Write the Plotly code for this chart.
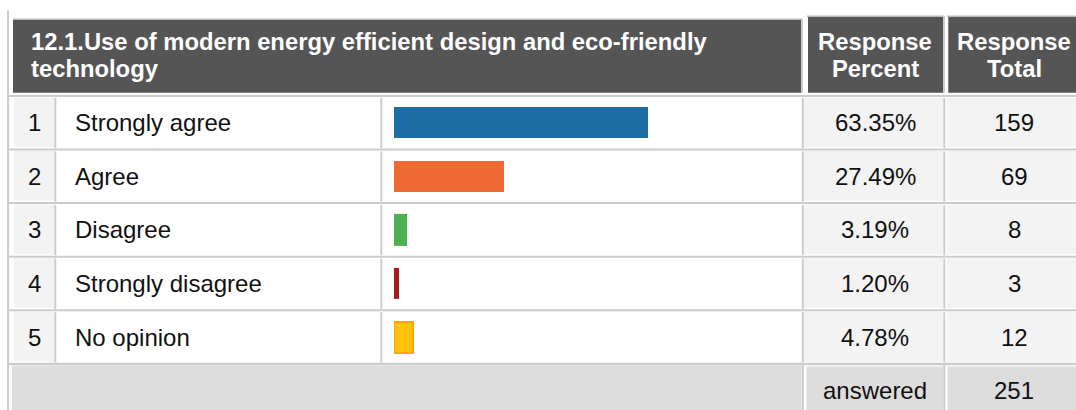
import plotly.graph_objects as go

# ---------------- data ----------------
question = "12.1.Use of modern energy efficient design and eco-friendly<br>technology"
col_headers = ["Response<br>Percent", "Response<br>Total"]
row_numbers = ["1", "2", "3", "4", "5"]
answers = ["Strongly agree", "Agree", "Disagree", "Strongly disagree", "No opinion"]
percents = [63.35, 27.49, 3.19, 1.20, 4.78]
totals = [159, 69, 8, 3, 12]
answered_label = "answered"
answered_total = 251

# ---------------- style ----------------
bar_colors = ["#1C6EA4", "#F16A36", "#4CAF50", "#A51C1E", "#FFC20E"]
bar_edges = ["#1C6EA4", "#F16A36", "#4CAF50", "#A51C1E", "#FFA500"]
bar_edge_w = [0, 0, 0, 0, 2]

W, H = 1076, 410
FONT = "Liberation Sans, Arial, sans-serif"
HEAD_BG = "#555555"
CELL_BG = "#F3F3F3"
FOOT_BG = "#DDDDDD"
BORDER = "#CCCCCC"
BODY_SIZE = 24
HEAD_SIZE = 23.8
HEAD_LINES_Y = (41.8, 68.6)

ROW0 = 95.9      # top of first body row (px)
PITCH = 53.6     # row pitch (px)
N = len(answers)

# column geometry (px)
NUM_X = (14, 54.3)
LAB_X0 = 72.5
HEAD_X0 = 28.5
BAR_X = (394, 795)     # 0..100 % span
PCT_X = (804, 943.3)
TOT_X = (947, 1081)
TOT_CX = 1014
VLINES = [55.3, 381.3, 802.8, 944.3]

fig = go.Figure()

# bars, drawn on their own percent axis
fig.add_trace(go.Bar(
    x=percents, y=answers, orientation="h",
    xaxis="x2", yaxis="y2",
    width=0.58,
    marker=dict(color=bar_colors, line=dict(color=bar_edges, width=bar_edge_w)),
    hoverinfo="skip", showlegend=False,
))

shapes = []
ann = []


def rect(x0, x1, y0, y1, fill):
    shapes.append(dict(type="rect", xref="x", yref="y", x0=x0, x1=x1, y0=y0, y1=y1,
                       fillcolor=fill, line=dict(width=0), layer="below"))


def hline(x0, x1, y, color=BORDER, w=2):
    shapes.append(dict(type="line", xref="x", yref="y", x0=x0, x1=x1, y0=y, y1=y,
                       line=dict(color=color, width=w), layer="below"))


def vline(x, y0, y1, color=BORDER, w=2):
    shapes.append(dict(type="line", xref="x", yref="y", x0=x, x1=x, y0=y0, y1=y1,
                       line=dict(color=color, width=w), layer="below"))


def text(x, y, s, size=BODY_SIZE, color="#111111", anchor="center", bold=False):
    ann.append(dict(xref="x", yref="y", x=x, y=y, text=(f"<b>{s}</b>" if bold else s),
                    showarrow=False, xanchor=anchor, yanchor="middle",
                    align="left" if anchor == "left" else "center",
                    font=dict(family=FONT, size=size, color=color)))


# table left border
vline(8, 10, H, w=2)

# header
hline(13, 802, 19.3, "#BBBBBB", 1.5)
rect(13, 801.3, 20, 92.7, HEAD_BG)
vline(802.3, 19, 93, BORDER, 1.5)
hline(807, 944, 16.2, "#BBBBBB", 1.5)
rect(808, 943.3, 17, 92.7, HEAD_BG)
vline(944.2, 16, 93, BORDER, 1.5)
hline(947, W, 16.2, "#BBBBBB", 1.5)
rect(948.3, W, 17, 92.7, HEAD_BG)

for k, line in enumerate(question.split("<br>")):
    text(HEAD_X0, HEAD_LINES_Y[k], line, size=HEAD_SIZE, color="#FFFFFF", anchor="left", bold=True)
for cx, hdr in zip([(PCT_X[0] + PCT_X[1]) / 2 + 1.5, TOT_CX], col_headers):
    for k, line in enumerate(hdr.split("<br>")):
        text(cx, HEAD_LINES_Y[k], line, size=HEAD_SIZE, color="#FFFFFF", bold=True)

# body rows
for i in range(N):
    top = ROW0 + i * PITCH
    bot = top + PITCH
    mid = (top + bot) / 2
    rect(NUM_X[0], NUM_X[1], top + 1.5, bot - 2.5, CELL_BG)
    rect(PCT_X[0], PCT_X[1], top + 1.5, bot - 2.5, CELL_BG)
    rect(TOT_X[0], TOT_X[1], top + 1.5, bot - 2.5, CELL_BG)
    hline(8, W, top, BORDER, 2)
    for vx in VLINES:
        vline(vx, top + 2, bot - 1.5, BORDER, 2)
    text((NUM_X[0] + NUM_X[1]) / 2, mid, row_numbers[i])
    text(LAB_X0, mid, answers[i], anchor="left")
    text((PCT_X[0] + PCT_X[1]) / 2 + 1.5, mid, f"{percents[i]:.2f}%")
    text(TOT_CX, mid, str(totals[i]))

# footer row
ftop = ROW0 + N * PITCH
hline(8, W, ftop, BORDER, 2.5)
rect(12, 801.5, ftop + 1.5, H, FOOT_BG)
rect(806.5, 943.3, ftop + 2.5, H, FOOT_BG)
rect(947.5, W, ftop + 2.5, H, FOOT_BG)
vline(802.8, ftop + 1, H, BORDER, 2)
vline(944.3, ftop + 1, H, BORDER, 2)
fmid = ftop + PITCH / 2
text((PCT_X[0] + PCT_X[1]) / 2 + 1.5, fmid, answered_label)
text(TOT_CX, fmid, str(answered_total))

fig.update_layout(
    width=W, height=H,
    margin=dict(l=0, r=0, t=0, b=0),
    paper_bgcolor="#FFFFFF", plot_bgcolor="rgba(0,0,0,0)",
    showlegend=False,
    shapes=shapes, annotations=ann,
    xaxis=dict(range=[0, W], domain=[0, 1], visible=False, fixedrange=True),
    yaxis=dict(range=[H, 0], domain=[0, 1], visible=False, fixedrange=True),
    xaxis2=dict(range=[0, 100], domain=[BAR_X[0] / W, BAR_X[1] / W], anchor="y2",
                visible=False, fixedrange=True),
    yaxis2=dict(type="category", categoryorder="array", categoryarray=answers,
                range=[N - 0.5, -0.5],
                domain=[1 - (ROW0 + N * PITCH) / H, 1 - ROW0 / H],
                anchor="x2", visible=False, fixedrange=True),
    bargap=0,
)

fig.write_html(
    "out.html",
    config={"displayModeBar": False},
    post_script="document.body.style.margin='0';document.body.style.overflow='hidden';",
)
